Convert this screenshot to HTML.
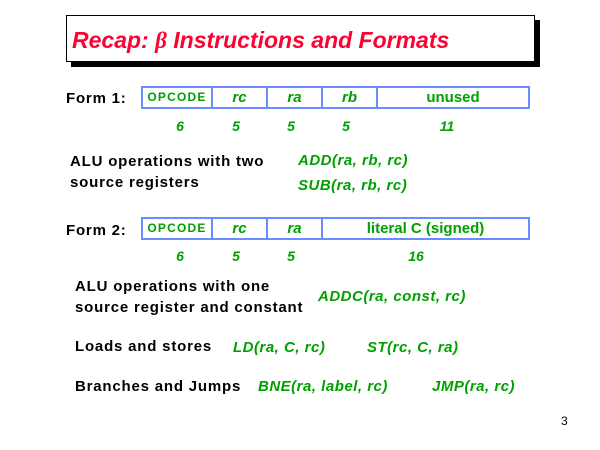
<!DOCTYPE html>
<html><head><meta charset="utf-8"><style>
body{margin:0;width:600px;height:450px;background:#fff;position:relative;overflow:hidden;font-family:"Liberation Sans",sans-serif}
.a{position:absolute;white-space:nowrap}
.t{font-size:15px;font-weight:bold;color:#000;letter-spacing:0.8px;line-height:21px}
.g{color:#00a000;font-style:italic;font-weight:bold;font-size:15px;letter-spacing:0.5px}
.box{position:absolute;border:2px solid #6a8cff;box-sizing:border-box;height:23px}
.c{position:absolute;top:0;height:19px;border-right:2px solid #6a8cff;text-align:center;line-height:19px;color:#00a000;font-size:15px;font-weight:bold}
.c.i{font-style:italic}
.op{font-size:12px;letter-spacing:1.2px}
.n{color:#00a000;font-weight:bold;font-style:italic;font-size:14px;text-align:center;width:20px}
</style></head><body>
<div class="a" style="left:71px;top:20px;width:469px;height:47px;background:#000"></div>
<div class="a" style="left:66px;top:15px;width:469px;height:47px;background:#fff;border:1px solid #000;box-sizing:border-box"></div>
<div class="a" style="left:72px;top:27px;font-size:23px;font-weight:bold;font-style:italic;color:#ff0033">Recap: <span style="font-family:'Liberation Serif',serif">β</span> Instructions and Formats</div>

<div class="a t" style="left:66px;top:88px">Form 1:</div>
<div class="box" style="left:141px;top:86px;width:389px">
 <div class="c op" style="left:0;width:68px">OPCODE</div>
 <div class="c i" style="left:70px;width:53px">rc</div>
 <div class="c i" style="left:125px;width:53px">ra</div>
 <div class="c i" style="left:180px;width:53px">rb</div>
 <div class="c" style="left:235px;width:150px;border:none">unused</div>
</div>
<div class="a n" style="left:170px;top:118px">6</div>
<div class="a n" style="left:226px;top:118px">5</div>
<div class="a n" style="left:281px;top:118px">5</div>
<div class="a n" style="left:336px;top:118px">5</div>
<div class="a n" style="left:437px;top:118px">11</div>

<div class="a t" style="left:70px;top:151px">ALU operations with two<br>source registers</div>
<div class="a g" style="left:298px;top:152px">ADD(ra, rb, rc)</div>
<div class="a g" style="left:298px;top:177px">SUB(ra, rb, rc)</div>

<div class="a t" style="left:66px;top:220px">Form 2:</div>
<div class="box" style="left:141px;top:217px;width:389px">
 <div class="c op" style="left:0;width:68px">OPCODE</div>
 <div class="c i" style="left:70px;width:53px">rc</div>
 <div class="c i" style="left:125px;width:53px">ra</div>
 <div class="c" style="left:180px;width:205px;border:none">literal C (signed)</div>
</div>
<div class="a n" style="left:170px;top:248px">6</div>
<div class="a n" style="left:226px;top:248px">5</div>
<div class="a n" style="left:281px;top:248px">5</div>
<div class="a n" style="left:406px;top:248px">16</div>

<div class="a t" style="left:75px;top:276px">ALU operations with one<br>source register and constant</div>
<div class="a g" style="left:318px;top:288px">ADDC(ra, const, rc)</div>

<div class="a t" style="left:75px;top:336px">Loads and stores</div>
<div class="a g" style="left:233px;top:339px">LD(ra, C, rc)</div>
<div class="a g" style="left:367px;top:339px">ST(rc, C, ra)</div>

<div class="a t" style="left:75px;top:376px">Branches and Jumps</div>
<div class="a g" style="left:258px;top:378px">BNE(ra, label, rc)</div>
<div class="a g" style="left:432px;top:378px">JMP(ra, rc)</div>

<div class="a" style="left:561px;top:414px;font-size:12px">3</div>
</body></html>
